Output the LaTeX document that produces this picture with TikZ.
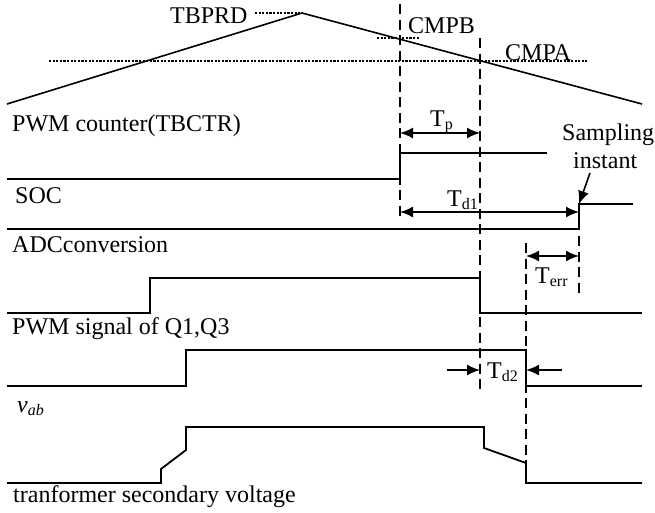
\documentclass[tikz,border=0pt]{standalone}
\usepackage{fontspec}
\setmainfont{Liberation Serif}
\usetikzlibrary{arrows.meta}
\newcommand{\subfs}{\fontsize{16}{18}\selectfont}
\begin{document}
\begin{tikzpicture}[x=1pt,y=-1pt,
  sig/.style={line width=1.8pt},
  guide/.style={line width=1.3pt, dash pattern=on 10pt off 5.5pt},
  dotline/.style={line width=1.2pt, dash pattern=on 2.2pt off 1.4pt},
  dim/.style={line width=1.8pt, {Latex[length=13pt,width=11pt]}-{Latex[length=13pt,width=11pt]}},
  one/.style={line width=1.6pt, -{Latex[length=13pt,width=11pt]}},
  lbl/.style={font=\fontsize{24}{28}\selectfont, inner sep=0pt, anchor=base west}
]
\useasboundingbox (0,0) rectangle (655,512);

% ---- counter triangle
\coordinate (c0) at (7,104);
\coordinate (cpk) at (302,13);
\coordinate (c1) at (642,104);
\draw[line width=1.6pt] (c0) -- (cpk) -- (c1);

\coordinate (tbA) at (255,13);
\draw[dotline] (tbA) -- (cpk);
\node[lbl] (tbprd) at (170,23) {TBPRD};

\coordinate (cmpaA) at (49,61);
\coordinate (cmpaB) at (587,61);
\draw[dotline] (cmpaA) -- (cmpaB);
\node[lbl] (cmpa) at (505,60) {CMPA};

\coordinate (cmpbA) at (377,38);
\coordinate (cmpbB) at (420,38);
\draw[dotline] (cmpbA) -- (cmpbB);
\node[lbl] (cmpb) at (408,33) {CMPB};

\node[lbl] (lctr) at (12,131) {PWM counter(TBCTR)};

% ---- dashed guides
\coordinate (g1a) at (400,4);   \coordinate (g1b) at (400,220);
\coordinate (g2a) at (480,38);  \coordinate (g2b) at (480,392);
\coordinate (g3a) at (526,243); \coordinate (g3b) at (526,462);
\coordinate (g4a) at (579,236); \coordinate (g4b) at (579,294);
\draw[guide] (g1a) -- (g1b);
\draw[guide] (g2a) -- (g2b);
\draw[guide] (g3a) -- (g3b);
\draw[guide] (g4a) -- (g4b);

% ---- Tp
\coordinate (tpL) at (400,133);
\coordinate (tpR) at (480,133);
\draw[dim] (tpL) -- (tpR);
\node[lbl] (tp) at (430,126) {T\textsubscript{\subfs p}};

% ---- SOC
\draw[sig] (7,179) -- (400,179) -- (400,153) -- (547,153);
\node[lbl] (lsoc) at (15,203) {SOC};

% ---- ADC
\draw[sig] (7,229) -- (579,229) -- (579,204) coordinate (samp) -- (633,204);
\node[lbl] (ladc) at (12,252) {ADCconversion};

\coordinate (td1L) at (400,212);
\coordinate (td1R) at (579,212);
\draw[dim] (td1L) -- (td1R);
\node[lbl] (td1) at (447,206) {T\textsubscript{\subfs d1}};

\node[lbl] (s1) at (562,140) {Sampling};
\node[lbl] (s2) at (573,168) {instant};
\coordinate (sarr) at (590,173);
\draw[one] (sarr) -- (samp);

\coordinate (teL) at (526,256);
\coordinate (teR) at (579,256);
\draw[dim] (teL) -- (teR);
\node[lbl] (terr) at (535,283) {T\textsubscript{\subfs err}};

% ---- PWM Q1,Q3
\draw[sig] (7,313) -- (150,313) -- (150,278) -- (480,278) -- (480,313) -- (642,313);
\node[lbl] (lpwm) at (12,334) {PWM signal of Q1,Q3};

% ---- vab
\draw[sig] (7,386) -- (186,386) -- (186,350) -- (526,350) -- (526,386) -- (642,386);
\node[lbl] (lvab) at (17,412) {\itshape v\textsubscript{\subfs\itshape ab}};

\coordinate (td2a) at (447,370);
\coordinate (td2b) at (480,370);
\coordinate (td2c) at (562,370);
\coordinate (td2d) at (526,370);
\draw[one] (td2a) -- (td2b);
\draw[one] (td2c) -- (td2d);
\node[lbl] (td2) at (487,378) {T\textsubscript{\subfs d2}};

% ---- transformer secondary voltage
\draw[sig] (7,483) -- (161,483) -- (161,469) -- (186,450) -- (186,427) -- (484,427)
  -- (484,448) -- (526,463) -- (526,483) -- (642,483);
\node[lbl] (ltr) at (13,502) {tranformer secondary voltage};
\end{tikzpicture}
\end{document}
